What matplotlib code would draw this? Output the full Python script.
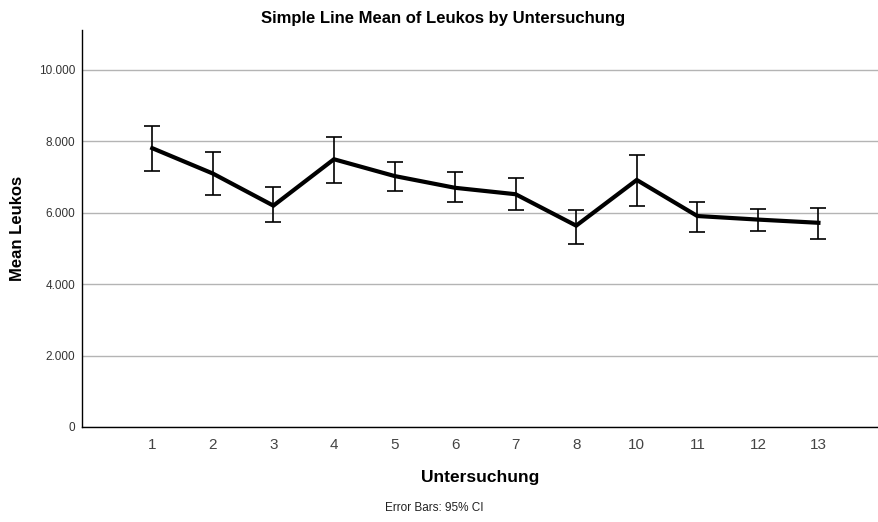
import matplotlib
matplotlib.use("Agg")
import matplotlib.pyplot as plt
from matplotlib.ticker import FuncFormatter

plt.rcParams['font.family'] = ['Liberation Sans', 'DejaVu Sans']

categories = ["1", "2", "3", "4", "5", "6", "7", "8", "10", "11", "12", "13"]
means = [7.81, 7.10, 6.20, 7.50, 7.03, 6.70, 6.52, 5.64, 6.92, 5.91, 5.81, 5.72]
upper = [8.44, 7.69, 6.73, 8.13, 7.43, 7.13, 6.97, 6.09, 7.62, 6.31, 6.11, 6.13]
lower = [7.18, 6.50, 5.73, 6.84, 6.62, 6.29, 6.09, 5.13, 6.19, 5.46, 5.50, 5.27]
yticks = [0, 2, 4, 6, 8, 10]

fig = plt.figure(figsize=(8.79, 5.22), dpi=100)
ax = fig.add_axes([0.0933, 0.182, 0.9067, 0.7605])

x = list(range(len(categories)))
yerr = [[m - l for m, l in zip(means, lower)], [u - m for m, u in zip(means, upper)]]
ax.errorbar(x, means, yerr=yerr, fmt='none', ecolor='black', elinewidth=1.2,
            capsize=5.5, capthick=1.2, zorder=3)
ax.plot(x, means, color='black', linewidth=3, solid_joinstyle='miter', zorder=4)

ax.set_xlim(-1.16, 12.0)
ax.set_ylim(0, 11.12)
ax.set_xticks(x)
ax.set_xticklabels(categories, fontsize=11, color='#444444')
ax.set_yticks(yticks)
ax.yaxis.set_major_formatter(FuncFormatter(lambda v, p: "0" if v == 0 else f"{int(v)}.000"))
ax.tick_params(axis='y', labelsize=8.5, length=0, pad=5, colors='#333333')
ax.tick_params(axis='x', length=0, pad=8)
ax.grid(axis='y', color='#b4b4b4', linewidth=1)
ax.set_axisbelow(True)
for s in ['top', 'right']:
    ax.spines[s].set_visible(False)
for s in ['left', 'bottom']:
    ax.spines[s].set_color('black')
    ax.spines[s].set_linewidth(1)

fig.text(0.504, 0.965, "Simple Line Mean of Leukos by Untersuchung", fontsize=12,
         fontweight='bold', ha='center', va='center')
ax.set_ylabel("Mean Leukos", fontsize=12, fontweight='bold', labelpad=10)
ax.set_xlabel("Untersuchung", fontsize=12.5, fontweight='bold', labelpad=13)
fig.text(0.494, 0.027, "Error Bars: 95% CI", fontsize=8.5, ha='center', va='center', color='#222222')

fig.savefig("out.png", dpi=100)
